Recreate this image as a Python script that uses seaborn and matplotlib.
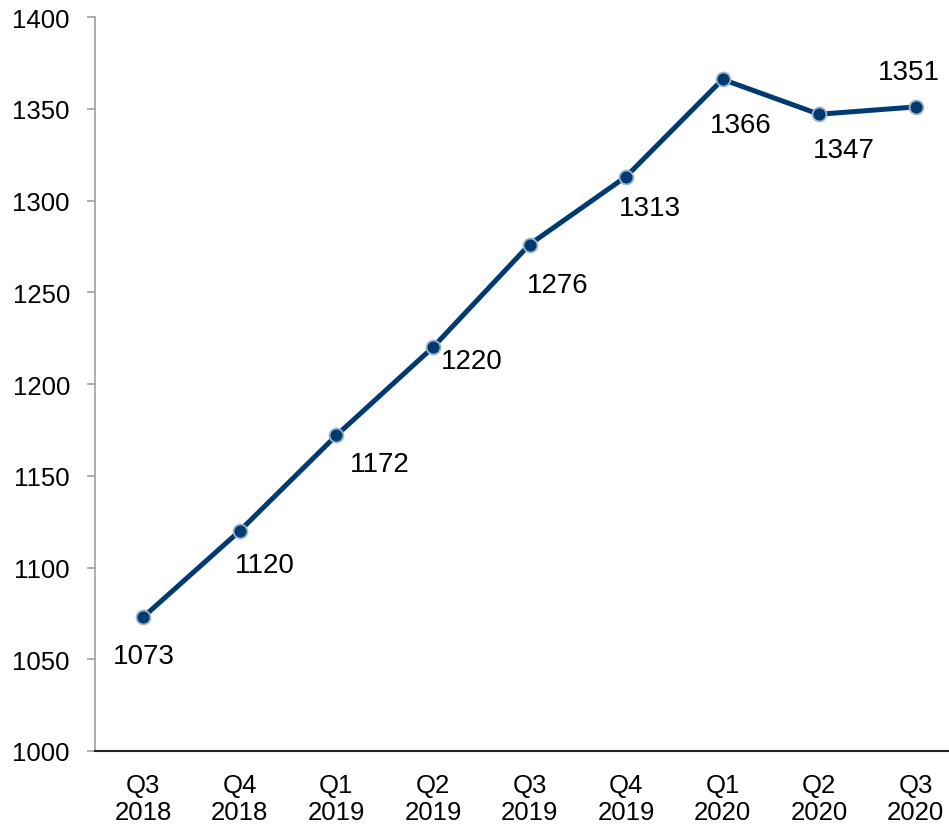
import pandas as pd
import matplotlib
matplotlib.use("Agg")
import matplotlib.pyplot as plt
import seaborn as sns

# Chart data
quarters = ["Q3\n2018", "Q4\n2018", "Q1\n2019", "Q2\n2019", "Q3\n2019",
            "Q4\n2019", "Q1\n2020", "Q2\n2020", "Q3\n2020"]
values = [1073, 1120, 1172, 1220, 1276, 1313, 1366, 1347, 1351]

# label offsets in pixels (dx, dy) relative to each point
label_offsets = [(1, -39), (25, -34), (43, -29), (39, -14), (28, -40),
                 (24, -31), (18, -46), (25, -36), (-7, 35)]

sns.set_style("white")
plt.rcParams["font.family"] = ["Liberation Sans", "DejaVu Sans"]

df = pd.DataFrame({"pos": range(len(quarters)), "value": values})

fig = plt.figure(figsize=(9.49, 8.29), dpi=100)
# axes run a little past the right edge of the figure, like the original
ax = fig.add_axes([95 / 949, (829 - 752) / 829, 869 / 949, (752 - 18) / 829])

navy = "#003a70"
sns.lineplot(data=df, x="pos", y="value", ax=ax, color=navy, linewidth=3.6,
             marker="o", markersize=10, markerfacecolor=navy,
             markeredgecolor="#9fb3ca", markeredgewidth=1.3, clip_on=False)

for i, v in enumerate(values):
    dx, dy = label_offsets[i]
    ax.annotate(str(v), (i, v), xytext=(dx, dy), textcoords="offset pixels",
                ha="center", va="center", fontsize=20, color="black")

ax.set_xlim(-0.5, len(quarters) - 0.5)
ax.set_ylim(1000, 1400)
ax.set_yticks(range(1000, 1401, 50))
ax.set_xticks(range(len(quarters)))
ax.set_xticklabels(quarters, fontsize=18.5, linespacing=1.15)
ax.tick_params(axis="y", labelsize=18.5, labelcolor="black", length=6,
               width=1.2, color="#a0a0a0", left=True, pad=12)
ax.tick_params(axis="x", labelcolor="black", length=0, pad=16)
ax.set_xlabel("")
ax.set_ylabel("")

for side in ["top", "right"]:
    ax.spines[side].set_visible(False)
ax.spines["left"].set_color("#a0a0a0")
ax.spines["left"].set_linewidth(1.2)
ax.spines["bottom"].set_color("#222222")
ax.spines["bottom"].set_linewidth(1.5)

fig.savefig("out.png", dpi=100)
